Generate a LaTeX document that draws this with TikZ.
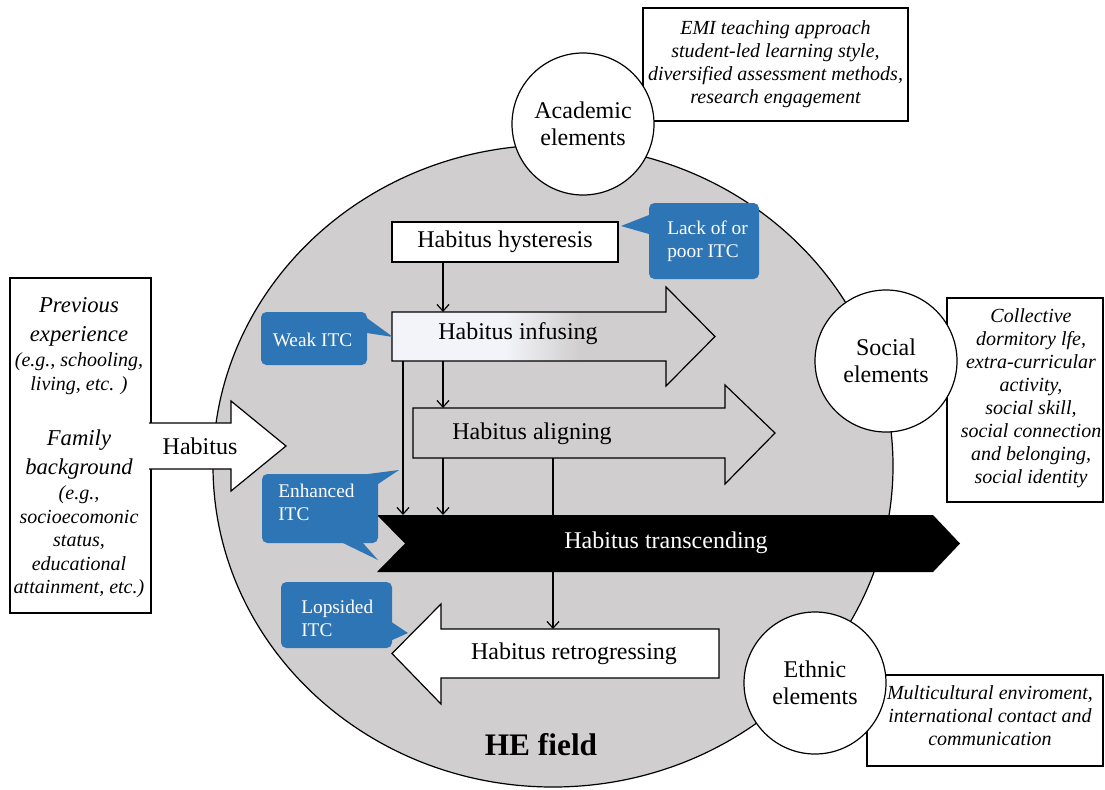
\documentclass[tikz,border=0pt]{standalone}
\usepackage{fontspec}
\setmainfont{Liberation Serif}
\usetikzlibrary{arrows.meta,positioning}
\definecolor{fieldgrey}{RGB}{208,206,206}
\definecolor{itcblue}{RGB}{46,117,182}
\definecolor{infuselight}{RGB}{243,244,249}
\newcommand{\habfont}{\fontsize{18}{20.5}\selectfont}
\newcommand{\notefont}{\fontsize{15}{17.25}\selectfont\itshape}
\newcommand{\itcfont}{\fontsize{14.5}{17.5}\selectfont}
\newcommand{\bgfont}{\fontsize{17}{21.75}\selectfont\itshape}
\newcommand{\bgnotefont}{\fontsize{15}{17.6}\selectfont\itshape}
\tikzset{
  elem/.style={draw, circle, fill=white, line width=0.9pt, minimum size=106.5pt, inner sep=0pt, align=center, font=\habfont},
  notebox/.style={draw, fill=white, line width=0.9pt, align=center, font=\notefont, inner sep=0pt},
  notetext/.style={align=center, font=\notefont, inner sep=0pt},
  bgtext/.style={align=center, font=\bgfont, inner sep=0pt},
  bgnote/.style={align=center, font=\bgnotefont, inner sep=0pt},
  stage/.style={font=\habfont, inner sep=0pt},
  stagebox/.style={stage, draw, fill=white, line width=0.9pt},
  flow/.style={draw, line width=0.9pt},
  itcbubble/.style={fill=itcblue, rounded corners=4pt},
  itctext/.style={text=white, align=left, font=\itcfont, inner sep=0pt, anchor=west},
  link/.style={line width=0.9pt, -{Straight Barb[length=5pt, width=9pt]}},
  fieldlabel/.style={font=\bfseries\fontsize{23.5}{28}\selectfont, inner sep=0pt}
}
\begin{document}
\begin{tikzpicture}[x=0.75pt, y=-0.75pt]
\useasboundingbox (0,0) rectangle (1105,789);
% the HE field
\draw[fill=fieldgrey, line width=0.9pt] (553,466) ellipse [x radius=340, y radius=321];
\node[fieldlabel] (field) at (541,745) {HE field};

% elements of the field and their notes
\node[notebox, minimum width=198.75pt, minimum height=84.75pt] (acadnote) at (775.5,64.5)
  {EMI teaching approach\\ student-led learning style,\\ diversified assessment methods,\\ research engagement};
\node[notebox, minimum width=117pt, minimum height=153pt] (socnote) at (1025,400) {};
\node[notetext] (soctext) at (1031,398) {Collective\\ dormitory lfe,\\ extra-curricular\\ activity,\\ social skill,\\ social connection\\ and belonging,\\ social identity};
\node[notebox, minimum width=177pt, minimum height=68.25pt] (ethnote) at (985,720.5) {};
\node[notetext] (ethtext) at (990,716) {Multicultural enviroment,\\ international contact and\\ communication};
\node[elem] (academic) at (583,124) {Academic\\ elements};
\node[elem] (social) at (886,361) {Social\\ elements};
\node[elem] (ethnic) at (815,683) {Ethnic\\ elements};

% background and habitus
\node[draw, fill=white, line width=0.9pt, minimum width=105.75pt, minimum height=251.25pt, inner sep=0pt] (bgbox) at (80.5,445.5) {};
\node[bgtext] (prev) at (79,321.5) {Previous\\ experience};
\node[bgnote] (prevnote) at (79,373.5) {(e.g., schooling,\\ living, etc. )};
\node[bgtext] (family) at (79,455) {Family\\ background};
\node[bgnote] (famnote) at (79,542) {(e.g.,\\ socioecomonic\\ status,\\ educational\\ attainment, etc.)};
\draw[flow, fill=white] (149,423) -- (231,423) -- (231,401) -- (286,446) -- (231,491) -- (231,469) -- (149,469);
\node[stage] (habitus) at (200,446) {Habitus};

% stages
\node[stagebox, minimum width=169.5pt, minimum height=30pt] (hyst) at (505,242) {Habitus hysteresis};
\draw[flow, fill=fieldgrey, path picture={
    \fill[infuselight] (380,280) rectangle (505,395);
    \shade[left color=infuselight, right color=fieldgrey] (504,280) rectangle (580,395);}]
  (392,312) -- (666,312) -- (666,287) -- (715,336.5) -- (666,386) -- (666,361) -- (392,361) -- cycle;
\node[stage] (infusing) at (518,334) {Habitus infusing};
\draw[flow, fill=fieldgrey] (413,408) -- (725,408) -- (725,385) -- (775,433) -- (725,484) -- (725,458) -- (413,458) -- cycle;
\node[stage] (aligning) at (532,434) {Habitus aligning};
\coordinate (alignBotC) at (553,458);
\coordinate (retroTop) at (553,629);
\draw[link] (alignBotC) -- (retroTop);
\fill (377,515) -- (933,515) -- (960,543.5) -- (933,572) -- (377,572) -- (405,543.5) -- cycle;
\node[stage, text=white] (transcending) at (666,543) {Habitus transcending};
\draw[flow, fill=white] (719,629) -- (441,629) -- (441,604) -- (392,653.5) -- (441,704) -- (441,678) -- (719,678) -- cycle;
\node[stage] (retro) at (574,654) {Habitus retrogressing};

% links between stages
\coordinate (infTopA) at (443,312);
\coordinate (infBotA) at (403,361);
\coordinate (infBotB) at (443,361);
\coordinate (alignTopB) at (443,408);
\coordinate (alignBotB) at (443,458);
\coordinate (transTopA) at (403,515);
\coordinate (transTopB) at (443,515);
\draw[link] (hyst.south -| infTopA) -- (infTopA);
\draw[link] (infBotA) -- (transTopA);
\draw[link] (infBotB) -- (alignTopB);
\draw[link] (alignBotB) -- (transTopB);

% ITC callouts
\fill[itcblue] (649,215) -- (621,226) -- (649,234) -- cycle;
\fill[itcblue] (360,313) -- (393,337) -- (367,333) -- cycle;
\fill[itcblue] (368,474) -- (399,470) -- (378,484) -- cycle;
\fill[itcblue] (343,543) -- (378,560) -- (363,543) -- cycle;
\fill[itcblue] (390,621) -- (408,633) -- (390,641) -- cycle;
\fill[itcbubble] (649,203) rectangle (759,279);
\fill[itcbubble] (261,312) rectangle (367,365);
\fill[itcbubble] (262,474) rectangle (378,543);
\fill[itcbubble] (281,582) rectangle (392,648);
\node[itctext] (lack) at (667,241) {Lack of or\\ poor ITC};
\node[itctext, anchor=center] (weak) at (312.5,340) {Weak ITC};
\node[itctext] (enhanced) at (278,502.5) {Enhanced\\ ITC};
\node[itctext] (lopsided) at (301,618.5) {Lopsided\\ ITC};
\end{tikzpicture}
\end{document}
